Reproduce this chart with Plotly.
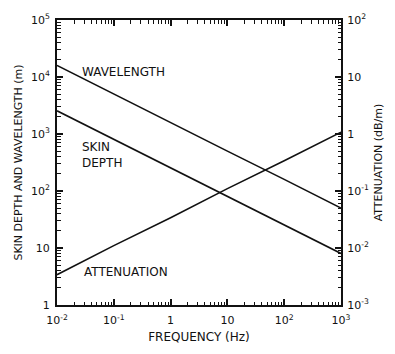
import plotly.graph_objects as go

# Frequency samples (Hz), one per decade
frequency = [0.01, 0.1, 1, 10, 100, 1000]

# Wavelength and skin depth in metres (left axis)
wavelength = [16000, 5000, 1600, 500, 160, 50]
skin_depth = [2550, 800, 255, 80, 25.5, 8]

# Attenuation in dB/m (right axis)
attenuation = [0.0034, 0.011, 0.034, 0.11, 0.34, 1.08]

x_tickvals = [0.01, 0.1, 1, 10, 100, 1000]
x_ticktext = ["10<sup>-2</sup>", "10<sup>-1</sup>", "1", "10", "10<sup>2</sup>", "10<sup>3</sup>"]
y_tickvals = [1, 10, 100, 1000, 10000, 100000]
y_ticktext = ["1", "10", "10<sup>2</sup>", "10<sup>3</sup>", "10<sup>4</sup>", "10<sup>5</sup>"]
y2_tickvals = [0.001, 0.01, 0.1, 1, 10, 100]
y2_ticktext = ["10<sup>-3</sup>", "10<sup>-2</sup>", "10<sup>-1</sup>", "1", "10", "10<sup>2</sup>"]

ink = "#111111"
font = dict(family="DejaVu Sans", size=11, color=ink)
label_font = dict(family="DejaVu Sans", size=12, color=ink)
title_font = dict(family="DejaVu Sans", size=11, color=ink)

fig = go.Figure()
fig.add_trace(go.Scatter(x=frequency, y=wavelength, mode="lines",
                         line=dict(color=ink, width=1.6), name="WAVELENGTH"))
fig.add_trace(go.Scatter(x=frequency, y=skin_depth, mode="lines",
                         line=dict(color=ink, width=1.6), name="SKIN DEPTH"))
fig.add_trace(go.Scatter(x=frequency, y=attenuation, mode="lines", yaxis="y2",
                         line=dict(color=ink, width=1.6), name="ATTENUATION"))


def log_axis(tickvals, ticktext, rng):
    # decade ticks with labels, plus 2..9 minor ticks, all pointing inward
    return dict(
        type="log", range=rng, showline=True, linecolor=ink, linewidth=2,
        tickmode="array", tickvals=tickvals, ticktext=ticktext,
        ticks="inside", ticklen=6, tickcolor=ink, tickwidth=1.5,
        showgrid=False, zeroline=False, tickfont=font,
        minor=dict(ticks="inside", ticklen=3.5, tickcolor=ink, tickwidth=1.2,
                   dtick="D1", showgrid=False),
    )


fig.update_layout(
    width=395, height=354,
    margin=dict(l=57, r=46, t=16, b=45),
    paper_bgcolor="white", plot_bgcolor="white",
    showlegend=False,
    font=font,
    xaxis=dict(log_axis(x_tickvals, x_ticktext, [-2, 3]),
               mirror="ticks", ticklabelstandoff=4,
               title=dict(text="FREQUENCY (Hz)", font=dict(title_font, size=12), standoff=6)),
    yaxis=dict(log_axis(y_tickvals, y_ticktext, [0, 5]), ticklabelstandoff=3,
               title=dict(text="SKIN DEPTH AND WAVELENGTH (m)", font=title_font, standoff=6)),
    yaxis2=dict(log_axis(y2_tickvals, y2_ticktext, [-3, 2]),
                overlaying="y", side="right", ticklabelstandoff=2,
                title=dict(text="ATTENUATION (dB/m)", font=title_font, standoff=6)),
)

# Curve labels
fig.add_annotation(x=-0.836, y=4.08, xref="x", yref="y", text="WAVELENGTH",
                   showarrow=False, font=label_font)
fig.add_annotation(x=-1.6, y=2.64, xref="x", yref="y", text="SKIN<br>DEPTH",
                   showarrow=False, font=label_font, align="left", xanchor="left")
fig.add_annotation(x=-0.78, y=0.58, xref="x", yref="y", text="ATTENUATION",
                   showarrow=False, font=label_font)

fig.write_html("out.html")
